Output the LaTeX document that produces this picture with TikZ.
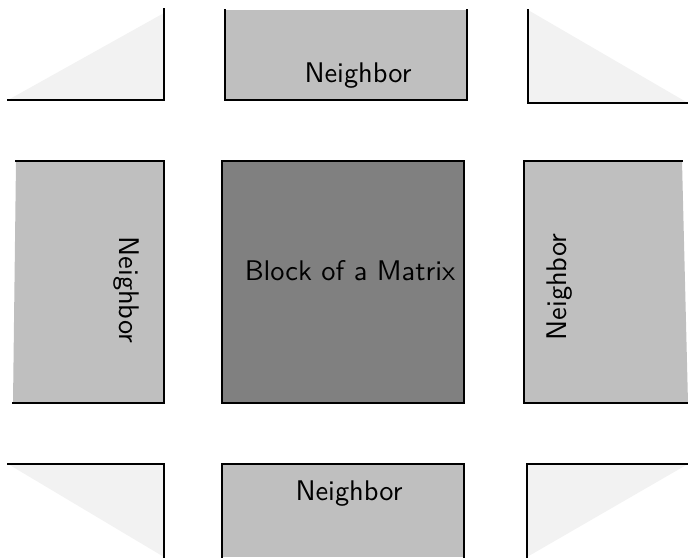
\documentclass[tikz,border=0pt]{standalone}
\begin{document}
\begin{tikzpicture}[x=1pt,y=-1pt,
  edge/.style={line width=1.5pt,line cap=rect},
  lbl/.style={font=\sffamily\fontsize{10}{12}\selectfont,inner sep=0pt,scale=2.84,transform shape},
  tri/.style={fill=black!5},
  nb/.style={fill=black!25},
  ctr/.style={fill=black!50}]
\useasboundingbox (0,0) rectangle (688,557);
% top-left triangle
\fill[tri] (8,100) -- (164,13) -- (164,100) -- cycle;
\draw[edge] (8,100) -- (164,100) -- (164,9);
% top neighbor
\fill[nb] (225,10) rectangle (467,100);
\draw[edge] (225,10) -- (225,100) -- (467,100) -- (467,10);
\node[lbl] (top) at (358,76) {Neighbor};
% top-right triangle
\fill[tri] (528,10) -- (528,103) -- (688,103) -- cycle;
\draw[edge] (528,10) -- (528,103) -- (688,103);
% left neighbor
\fill[nb] (16,161) -- (164,161) -- (164,403) -- (13,403) -- cycle;
\draw[edge] (16,161) -- (164,161) -- (164,403) -- (13,403);
\node[lbl,rotate=-90] (left) at (126,290) {Neighbor};
% centre block
\fill[ctr] (222,161) rectangle (464,403);
\draw[edge] (222,161) rectangle (464,403);
\node[lbl] (block) at (350,271) {Block of a Matrix};
% right neighbor
\fill[nb] (524,161) -- (682,161) -- (688,403) -- (524,403) -- cycle;
\draw[edge] (682,161) -- (524,161) -- (524,403) -- (688,403);
\node[lbl,rotate=90] (right) at (560,287) {Neighbor};
% bottom-left triangle
\fill[tri] (8,464) -- (164,464) -- (164,557) -- cycle;
\draw[edge] (8,464) -- (164,464) -- (164,557);
% bottom neighbor
\fill[nb] (222,464) rectangle (464,557);
\draw[edge] (222,557) -- (222,464) -- (464,464) -- (464,557);
\node[lbl] (bottom) at (349,494) {Neighbor};
% bottom-right triangle
\fill[tri] (527,464) -- (688,464) -- (527,557) -- cycle;
\draw[edge] (688,464) -- (527,464) -- (527,557);
\end{tikzpicture}
\end{document}
